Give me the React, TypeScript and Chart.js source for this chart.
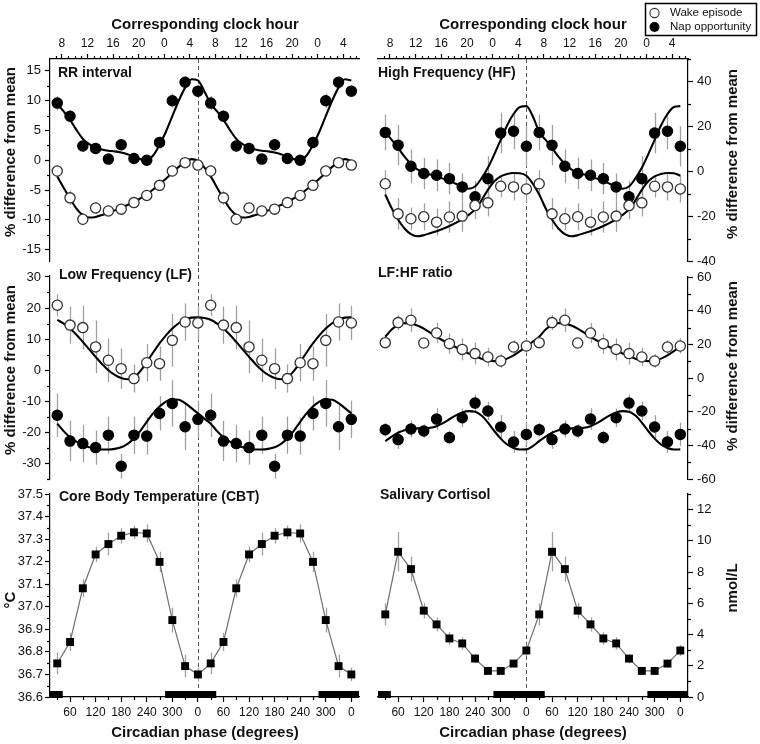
import React, { useEffect, useRef } from 'react';
import { Chart, registerables } from 'chart.js';

Chart.register(...registerables);

const FONT = '"Liberation Sans", Arial, Helvetica, sans-serif';
Chart.defaults.font.family = FONT;

// ---------- data ----------
// circadian phase of each bin (one cycle; the figure is double-plotted)
const phases = [30, 60, 90, 120, 150, 180, 210, 240, 270, 300, 330, 360];
// phases at which the fitted curves were read (one cycle)
const fitPhases = [30, 45, 60, 75, 90, 105, 120, 135, 150, 165, 180, 195, 210, 225, 240, 255, 270, 285, 300, 315, 330, 345, 360, 375];

// RR interval (% difference from mean)
const rrWake = [-1.8, -6.3, -9.9, -8.0, -8.5, -8.2, -7.1, -5.9, -4.2, -1.8, -0.4, -0.8];
const rrWakeErr = [1.0, 1.2, 1.0, 1.0, 0.9, 0.9, 0.9, 0.9, 0.9, 0.9, 0.9, 0.9];
const rrNap = [9.6, 7.4, 2.4, 2.0, 0.2, 2.6, 0.3, 0.0, 3.0, 10.0, 13.1, 11.6];
const rrNapErr = [1.2, 1.0, 1.0, 1.0, 0.8, 1.0, 0.8, 0.8, 1.0, 1.2, 1.0, 1.0];
const rrWakeFit = [-2.7, -4.6, -6.4, -8.1, -9.2, -9.6, -9.5, -9.2, -8.8, -8.4, -7.9, -7.5, -7.0, -6.4, -5.7, -4.9, -4.0, -3.1, -2.1, -1.1, -0.3, 0.2, -0.1, -1.2];
const rrNapFit = [9.5, 8.2, 6.8, 5.1, 3.6, 2.7, 2.1, 1.8, 1.6, 1.5, 1.3, 1.0, 0.6, 0.2, 0.1, 0.8, 2.6, 4.8, 7.4, 10.0, 12.2, 13.6, 13.4, 11.6];

// High Frequency
const hfWake = [-5.6, -19.0, -21.2, -20.3, -22.7, -20.4, -20.0, -15.3, -14.1, -6.7, -7.0, -7.9];
const hfWakeErr = [6, 7, 5, 6, 6, 7, 7, 6, 6, 5, 6, 6];
const hfNap = [17.3, 11.6, 2.2, -1.0, -1.8, -3.3, -7.0, -11.4, -3.3, 17.0, 17.8, 11.1];
const hfNapErr = [8, 9, 7.5, 7, 7, 7, 6, 7, 10, 9, 8, 9];
const hfWakeFit = [-10.4, -16.5, -21.5, -25.5, -28.0, -29.0, -28.5, -27.6, -26.7, -25.6, -24.4, -23.0, -21.5, -19.5, -17.0, -13.0, -8.3, -4.5, -2.3, -1.2, -0.8, -0.9, -2.0, -5.5];
const hfNapFit = [17.5, 14.0, 10.4, 6.5, 3.2, 0.8, -0.6, -1.5, -2.3, -3.3, -4.4, -5.6, -6.8, -7.8, -6.8, -3.2, 1.5, 7.5, 14.0, 20.5, 25.5, 28.6, 29.0, 24.5];

// Low Frequency
const lfWake = [20.9, 14.5, 13.7, 7.5, 3.2, 0.5, -2.7, 2.4, 2.1, 9.6, 15.5, 15.2];
const lfWakeErr = [3.5, 6, 7, 8.5, 7, 6.5, 4.5, 6, 5.5, 8.5, 6, 5.5];
const lfNap = [-14.5, -22.8, -23.6, -24.9, -20.9, -30.9, -20.9, -21.2, -13.9, -10.7, -18.2, -15.8];
const lfNapErr = [7, 6.5, 6, 5.5, 6, 4, 6, 6, 5.5, 7.5, 7.5, 6];
const lfWakeFit = [16.2, 15.0, 13.4, 11.4, 9.1, 6.7, 4.3, 2.0, 0.0, -1.5, -2.5, -2.9, -2.3, -0.3, 2.6, 5.7, 8.6, 11.2, 13.4, 15.1, 16.3, 16.9, 17.0, 16.8];
const lfNapFit = [-17.2, -19.6, -21.6, -23.0, -24.1, -24.8, -25.2, -25.5, -25.5, -25.3, -24.8, -23.7, -22.0, -19.5, -16.6, -13.9, -11.7, -10.1, -9.4, -9.5, -10.6, -12.2, -13.9, -15.6];

// LF:HF ratio
const lfhfWake = [21.0, 32.9, 34.3, 20.8, 26.7, 20.4, 17.0, 14.5, 12.5, 10.1, 18.4, 19.0];
const lfhfWakeErr = [3, 4.5, 7, 2, 6, 6, 6.5, 6.5, 5.5, 4, 4, 4.5];
const lfhfNap = [-30.7, -36.6, -30.3, -31.5, -24.4, -35.4, -23.6, -14.9, -19.6, -29.1, -38.0, -33.5];
const lfhfNapErr = [4, 5.5, 5, 4, 6.5, 4, 5.5, 5, 5.5, 7, 6.5, 7];
const lfhfWakeFit = [24.5, 28.8, 31.5, 32.6, 32.4, 31.2, 29.3, 26.9, 24.4, 22.3, 20.3, 18.3, 16.4, 14.6, 12.9, 11.5, 10.5, 10.0, 10.3, 11.5, 13.4, 15.9, 18.6, 21.6];
const lfhfNapFit = [-37.5, -34.8, -32.5, -31.0, -30.2, -29.9, -29.9, -29.6, -28.6, -26.8, -24.5, -22.2, -20.5, -19.7, -20.0, -22.3, -26.5, -31.5, -36.0, -39.5, -41.6, -42.5, -42.4, -40.5];

// Core body temperature (°C) and salivary cortisol (nmol/L)
const cbt = [36.749, 36.844, 37.082, 37.232, 37.278, 37.315, 37.330, 37.325, 37.199, 36.941, 36.737, 36.700];
const cbtErr = [0.048, 0.04, 0.04, 0.035, 0.05, 0.035, 0.03, 0.04, 0.045, 0.055, 0.05, 0.03];
const cortisol = [5.29, 9.30, 8.19, 5.53, 4.65, 3.75, 3.43, 2.46, 1.67, 1.67, 2.14, 2.98];
const cortisolErr = [0.7, 1.26, 0.8, 0.5, 0.45, 0.4, 0.4, 0.3, 0.2, 0.2, 0.25, 0.35];

// sleep episodes (phase, degrees)
const sleepStart = [-77, 283, 643];
const sleepEnd = [43, 403, 763];

// axis ticks
const phaseTicks = [60, 120, 180, 240, 300, 360, 420, 480, 540, 600, 660, 720];
const phaseTickLabels = ['60', '120', '180', '240', '300', '0', '60', '120', '180', '240', '300', '0'];
const clockTickHours = [8, 12, 16, 20, 24, 28, 32, 36, 40, 44, 48, 52];
const clockTickLabels = ['8', '12', '16', '20', '0', '4', '8', '12', '16', '20', '0', '4'];
const CLOCK8_PHASE = 41; // phase of 08:00 on the first plotted day
const X_MIN = 13;
const X_MAX = 738;

// ---------- helpers ----------
const clockPhase = (h: number) => CLOCK8_PHASE + (h - 8) * 15;
const dbl = (vals: number[]) => [
  ...phases.map((p, i) => ({ x: p, y: vals[i] })),
  ...phases.map((p, i) => ({ x: p + 360, y: vals[i] })),
];
const dblArr = (vals: number[]) => [...vals, ...vals];
const dblFit = (vals: number[]) => [
  ...fitPhases.map((p, i) => ({ x: p, y: vals[i] })),
  ...fitPhases.map((p, i) => ({ x: p + 360, y: vals[i] })).filter((d) => d.x <= 720),
];

const pts = (vals: number[], open: boolean) => ({
  data: dbl(vals),
  showLine: false,
  order: 0,
  pointRadius: 5.1,
  pointHoverRadius: 5.1,
  pointBorderWidth: 1.3,
  pointBackgroundColor: open ? '#ffffff' : '#000000',
  pointBorderColor: open ? '#333333' : '#000000',
});
const fit = (vals: number[]) => ({
  data: dblFit(vals),
  order: 1,
  borderColor: '#000',
  borderWidth: 2.1,
  pointRadius: 0,
  cubicInterpolationMode: 'monotone',
  fill: false,
});
const squares = (vals: number[]) => ({
  data: dbl(vals),
  order: 0,
  showLine: true,
  borderColor: '#707070',
  borderWidth: 1.2,
  pointStyle: 'rect',
  pointRadius: 5.6,
  pointHoverRadius: 5.6,
  pointBackgroundColor: '#000',
  pointBorderColor: '#000',
  pointBorderWidth: 0,
  tension: 0,
});

type Txt = { t: string; x: number; y: number; size: number; bold?: boolean; align?: CanvasTextAlign; rot?: boolean };
type Panel = {
  id: string;
  left: number; top: number; width: number; height: number;
  pad: { left: number; right: number; top: number; bottom: number };
  side: 'left' | 'right';
  axisW: number;
  yMin: number; yMax: number; yMajor: number[]; yMinorStep: number; yDec: number; yPad: number;
  xMode: 'top' | 'none' | 'bottom';
  xH: number;
  dashFrom: number | null; // page y; null = chart area top
  dashTo: number | null; // page y; null = chart area bottom
  sleep: boolean; legend: boolean;
  texts: Txt[];
  datasets: any[];
  errors: (number[] | null)[];
};

const range = (a: number, b: number, s: number) => {
  const out: number[] = [];
  for (let v = a; v <= b + 1e-9; v += s) out.push(Math.round(v * 1000) / 1000);
  return out;
};

const YT = '% difference from mean';
const XT = 'Circadian phase (degrees)';
const CT = 'Corresponding clock hour';

const panels: Panel[] = [
  {
    id: 'rr', left: 0, top: 0, width: 370, height: 268,
    pad: { left: 0, right: 11, top: 0, bottom: 6 }, side: 'left', axisW: 50,
    yMin: -17, yMax: 17, yMajor: range(-15, 15, 5), yMinorStep: 2.5, yDec: 0, yPad: 4,
    xMode: 'top', xH: 59, dashFrom: null, dashTo: 268, sleep: false, legend: false,
    texts: [
      { t: CT, x: 205, y: 25, size: 15, bold: true, align: 'center' },
      { t: 'RR interval', x: 58, y: 73, size: 14, bold: true, align: 'left' },
      { t: YT, x: 11, y: 152, size: 15, bold: true, align: 'center', rot: true },
    ],
    datasets: [pts(rrWake, true), pts(rrNap, false), fit(rrWakeFit), fit(rrNapFit)],
    errors: [dblArr(rrWakeErr), dblArr(rrNapErr), null, null],
  },
  {
    id: 'hf', left: 370, top: 0, width: 390, height: 268,
    pad: { left: 8, right: 0, top: 0, bottom: 7 }, side: 'right', axisW: 72,
    yMin: -40, yMax: 50, yMajor: range(-40, 40, 20), yMinorStep: 10, yDec: 0, yPad: 4,
    xMode: 'top', xH: 59, dashFrom: null, dashTo: 268, sleep: false, legend: true,
    texts: [
      { t: CT, x: 533, y: 25, size: 15, bold: true, align: 'center' },
      { t: 'High Frequency (HF)', x: 378, y: 73, size: 14, bold: true, align: 'left' },
      { t: YT, x: 733, y: 154, size: 15, bold: true, align: 'center', rot: true },
    ],
    datasets: [pts(hfWake, true), pts(hfNap, false), fit(hfWakeFit), fit(hfNapFit)],
    errors: [dblArr(hfWakeErr), dblArr(hfNapErr), null, null],
  },
  {
    id: 'lf', left: 0, top: 256, width: 370, height: 232,
    pad: { left: 0, right: 11, top: 20, bottom: 9 }, side: 'left', axisW: 50,
    yMin: -35, yMax: 30.3, yMajor: range(-30, 30, 10), yMinorStep: 5, yDec: 0, yPad: 4,
    xMode: 'none', xH: 0, dashFrom: 268, dashTo: 488, sleep: false, legend: false,
    texts: [
      { t: 'Low Frequency (LF)', x: 59, y: 275, size: 14, bold: true, align: 'left' },
      { t: YT, x: 11, y: 370, size: 15, bold: true, align: 'center', rot: true },
    ],
    datasets: [pts(lfWake, true), pts(lfNap, false), fit(lfWakeFit), fit(lfNapFit)],
    errors: [dblArr(lfWakeErr), dblArr(lfNapErr), null, null],
  },
  {
    id: 'lfhf', left: 370, top: 256, width: 390, height: 232,
    pad: { left: 8, right: 0, top: 21, bottom: 9 }, side: 'right', axisW: 72,
    yMin: -60, yMax: 60, yMajor: range(-60, 60, 20), yMinorStep: 10, yDec: 0, yPad: 4,
    xMode: 'none', xH: 0, dashFrom: 268, dashTo: 488, sleep: false, legend: false,
    texts: [
      { t: 'LF:HF ratio', x: 378, y: 273, size: 14, bold: true, align: 'left' },
      { t: YT, x: 733, y: 366, size: 15, bold: true, align: 'center', rot: true },
    ],
    datasets: [pts(lfhfWake, true), pts(lfhfNap, false), fit(lfhfWakeFit), fit(lfhfNapFit)],
    errors: [dblArr(lfhfWakeErr), dblArr(lfhfNapErr), null, null],
  },
  {
    id: 'cbt', left: 0, top: 480, width: 370, height: 264,
    pad: { left: 0, right: 11, top: 14, bottom: 0 }, side: 'left', axisW: 50,
    yMin: 36.6, yMax: 37.5, yMajor: range(36.6, 37.5, 0.1), yMinorStep: 0.05, yDec: 1, yPad: 2,
    xMode: 'bottom', xH: 47, dashFrom: 488, dashTo: null, sleep: true, legend: false,
    texts: [
      { t: 'Core Body Temperature (CBT)', x: 59, y: 497, size: 14, bold: true, align: 'left' },
      { t: '°C', x: 11, y: 600, size: 15, bold: true, align: 'center', rot: true },
      { t: XT, x: 205, y: 733, size: 15, bold: true, align: 'center' },
    ],
    datasets: [squares(cbt)],
    errors: [dblArr(cbtErr)],
  },
  {
    id: 'cort', left: 370, top: 480, width: 390, height: 264,
    pad: { left: 8, right: 0, top: 14, bottom: 0 }, side: 'right', axisW: 72,
    yMin: 0, yMax: 13, yMajor: range(0, 12, 2), yMinorStep: 1, yDec: 0, yPad: 4,
    xMode: 'bottom', xH: 47, dashFrom: 488, dashTo: null, sleep: true, legend: false,
    texts: [
      { t: 'Salivary Cortisol', x: 380, y: 495, size: 14, bold: true, align: 'left' },
      { t: 'nmol/L', x: 733, y: 588, size: 15, bold: true, align: 'center', rot: true },
      { t: XT, x: 533, y: 733, size: 15, bold: true, align: 'center' },
    ],
    datasets: [squares(cortisol)],
    errors: [dblArr(cortisolErr)],
  },
];

function decoPlugin(p: Panel) {
  return {
    id: 'deco_' + p.id,
    beforeDatasetsDraw(chart: any) {
      const { ctx, chartArea: a } = chart;
      const xs = chart.scales.x;
      const ys = chart.scales.y;
      // dashed line at phase 0
      ctx.save();
      const dx = Math.round(xs.getPixelForValue(360)) + 0.5;
      ctx.strokeStyle = '#555';
      ctx.lineWidth = 1;
      ctx.setLineDash([4, 3]);
      ctx.beginPath();
      ctx.moveTo(dx, p.dashFrom === null ? a.top : p.dashFrom - p.top);
      ctx.lineTo(dx, p.dashTo === null ? a.bottom : p.dashTo - p.top);
      ctx.stroke();
      ctx.restore();
      // error bars
      ctx.save();
      ctx.strokeStyle = '#a0a0a0';
      ctx.lineWidth = 1.3;
      chart.data.datasets.forEach((ds: any, di: number) => {
        const err = p.errors[di];
        if (!err) return;
        ds.data.forEach((pt: any, i: number) => {
          const px = Math.round(xs.getPixelForValue(pt.x)) + 0.5;
          ctx.beginPath();
          ctx.moveTo(px, ys.getPixelForValue(pt.y + err[i]));
          ctx.lineTo(px, ys.getPixelForValue(pt.y - err[i]));
          ctx.stroke();
        });
      });
      ctx.restore();
    },
    afterDraw(chart: any) {
      const { ctx, chartArea: a } = chart;
      const xs = chart.scales.x;
      const ys = chart.scales.y;
      ctx.save();
      ctx.strokeStyle = '#000';
      ctx.lineWidth = 1.2;
      // minor y ticks
      const minors = range(Math.ceil(p.yMin / p.yMinorStep - 1e-9) * p.yMinorStep, p.yMax, p.yMinorStep)
        .filter((v) => !p.yMajor.some((m) => Math.abs(m - v) < 1e-6));
      minors.forEach((v) => {
        const py = Math.round(ys.getPixelForValue(v)) + 0.5;
        ctx.beginPath();
        if (p.side === 'left') { ctx.moveTo(a.left - 3, py); ctx.lineTo(a.left, py); }
        else { ctx.moveTo(a.right, py); ctx.lineTo(a.right + 3, py); }
        ctx.stroke();
      });
      // minor x ticks
      if (p.xMode === 'top') {
        for (let h = 7; h <= 54; h++) {
          if (h % 4 === 0) continue;
          const ph = clockPhase(h);
          if (ph < X_MIN || ph > X_MAX) continue;
          const px = Math.round(xs.getPixelForValue(ph)) + 0.5;
          ctx.beginPath(); ctx.moveTo(px, a.top - 3); ctx.lineTo(px, a.top); ctx.stroke();
        }
      }
      if (p.xMode === 'bottom') {
        for (let ph = 30; ph <= 720; ph += 60) {
          const px = Math.round(xs.getPixelForValue(ph)) + 0.5;
          ctx.beginPath(); ctx.moveTo(px, a.bottom); ctx.lineTo(px, a.bottom + 3); ctx.stroke();
        }
      }
      ctx.restore();
      // sleep episodes
      if (p.sleep) {
        ctx.save();
        ctx.fillStyle = '#000';
        sleepStart.forEach((s, i) => {
          const x1 = Math.max(a.left, xs.getPixelForValue(s));
          const x2 = Math.min(a.right, xs.getPixelForValue(sleepEnd[i]));
          if (x2 > x1) ctx.fillRect(x1, a.bottom - 6, x2 - x1, 7);
        });
        ctx.restore();
      }
      // texts
      p.texts.forEach((t) => {
        ctx.save();
        ctx.fillStyle = '#111';
        ctx.font = `${t.bold ? 'bold ' : ''}${t.size}px ${FONT}`;
        ctx.textAlign = t.align || 'left';
        ctx.textBaseline = 'middle';
        const x = t.x - p.left;
        const y = t.y - p.top;
        if (t.rot) {
          ctx.translate(x, y);
          ctx.rotate(-Math.PI / 2);
          ctx.fillText(t.t, 0, 0);
        } else {
          ctx.fillText(t.t, x, y);
        }
        ctx.restore();
      });
      // legend
      if (p.legend) {
        ctx.save();
        const bx = 645 - p.left;
        const by = 3 - p.top;
        ctx.strokeStyle = '#000';
        ctx.lineWidth = 1.5;
        ctx.strokeRect(bx + 0.5, by + 0.5, 111, 32);
        ctx.beginPath();
        ctx.arc(bx + 9.5, by + 10, 4.6, 0, Math.PI * 2);
        ctx.fillStyle = '#fff';
        ctx.fill();
        ctx.lineWidth = 1.1;
        ctx.strokeStyle = '#333';
        ctx.stroke();
        ctx.beginPath();
        ctx.arc(bx + 9.5, by + 24, 5, 0, Math.PI * 2);
        ctx.fillStyle = '#000';
        ctx.fill();
        ctx.fillStyle = '#111';
        ctx.font = `11.5px ${FONT}`;
        ctx.textAlign = 'left';
        ctx.textBaseline = 'middle';
        ctx.fillText('Wake episode', bx + 25, by + 10);
        ctx.fillText('Nap opportunity', bx + 25, by + 24);
        ctx.restore();
      }
    },
  };
}

function buildChart(canvas: HTMLCanvasElement, p: Panel) {
  const xMajor = p.xMode === 'top' ? clockTickHours.map(clockPhase) : p.xMode === 'bottom' ? phaseTicks : [];
  const xLabel = (v: number) => {
    if (p.xMode === 'top') {
      const i = clockTickHours.findIndex((h) => Math.abs(clockPhase(h) - v) < 1e-6);
      return i >= 0 ? clockTickLabels[i] : '';
    }
    const i = phaseTicks.findIndex((t) => Math.abs(t - v) < 1e-6);
    return i >= 0 ? phaseTickLabels[i] : '';
  };
  const cfg: any = {
    type: 'line',
    data: { datasets: p.datasets },
    options: {
      animation: false,
      responsive: false,
      maintainAspectRatio: false,
      events: [],
      layout: { padding: p.pad },
      plugins: { legend: { display: false }, tooltip: { enabled: false } },
      scales: {
        x: {
          type: 'linear',
          min: X_MIN,
          max: X_MAX,
          display: p.xMode !== 'none',
          position: p.xMode === 'top' ? 'top' : 'bottom',
          border: { display: true, color: '#000', width: 1.2 },
          grid: { display: true, drawOnChartArea: false, drawTicks: true, tickLength: 5, tickColor: '#000', tickWidth: 1.2 },
          ticks: {
            autoSkip: false, maxRotation: 0, minRotation: 0, padding: 3,
            color: '#111', font: { family: FONT, size: 12 },
            callback: (v: any) => xLabel(Number(v)),
          },
          afterBuildTicks: (s: any) => { s.ticks = xMajor.map((v) => ({ value: v })); },
          afterFit: (s: any) => {
            s.height = p.xH;
            s.paddingLeft = 0; s.paddingRight = 0; s.paddingTop = 0; s.paddingBottom = 0;
          },
        },
        y: {
          type: 'linear',
          min: p.yMin,
          max: p.yMax,
          position: p.side,
          border: { display: true, color: '#000', width: 1.2 },
          grid: { display: true, drawOnChartArea: false, drawTicks: true, tickLength: 5, tickColor: '#000', tickWidth: 1.2 },
          ticks: {
            autoSkip: false, padding: p.yPad,
            color: '#111', font: { family: FONT, size: 13 },
            callback: (v: any) => Number(v).toFixed(p.yDec),
          },
          afterBuildTicks: (s: any) => { s.ticks = p.yMajor.map((v) => ({ value: v })); },
          afterFit: (s: any) => {
            s.width = p.axisW;
            s.paddingLeft = 0; s.paddingRight = 0; s.paddingTop = 0; s.paddingBottom = 0;
          },
        },
      },
    },
    plugins: [decoPlugin(p)],
  };
  return new Chart(canvas, cfg);
}

export default function App() {
  const refs = useRef<(HTMLCanvasElement | null)[]>([]);
  useEffect(() => {
    const charts = panels.map((p, i) => buildChart(refs.current[i] as HTMLCanvasElement, p));
    return () => charts.forEach((c) => c.destroy());
  }, []);
  return (
    <div style={{ position: 'fixed', left: 0, top: 0, width: 760, height: 744, background: '#fff', overflow: 'hidden' }}>
      {panels.map((p, i) => (
        <canvas
          key={p.id}
          ref={(el) => { refs.current[i] = el; }}
          width={p.width}
          height={p.height}
          style={{ position: 'absolute', left: p.left, top: p.top, width: p.width, height: p.height }}
        />
      ))}
    </div>
  );
}
